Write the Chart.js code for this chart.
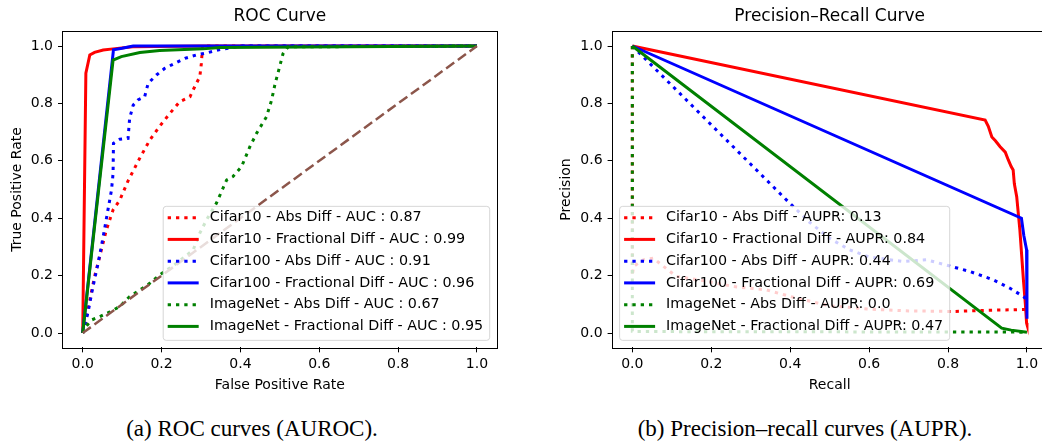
<!DOCTYPE html>
<html>
<head>
<meta charset="utf-8">
<script src="https://cdn.jsdelivr.net/npm/chart.js@4.4.0/dist/chart.umd.min.js"></script>
<style>
  html, body { margin: 0; padding: 0; background: #fff; }
  body { width: 1042px; height: 447px; position: relative; overflow: hidden; }
  canvas { position: absolute; top: 0; }
  #roc { left: 0; }
  #pr { left: 520px; }
  .caption { position: absolute; top: 417px; width: 400px; font-family: 'Liberation Serif', serif; font-size: 23px; line-height: 23px; text-align: center; color: #000; white-space: nowrap; }
</style>
</head>
<body>
<canvas id="roc" width="520" height="400"></canvas>
<canvas id="pr" width="530" height="400"></canvas>
<div class="caption" style="left:52px">(a) ROC curves (AUROC).</div>
<div class="caption" style="left:605px">(b) Precision–recall curves (AUPR).</div>
<script>
// shared tick values / labels
const tickValues = [0, 0.2, 0.4, 0.6, 0.8, 1.0];
const tickLabels = ['0.0', '0.2', '0.4', '0.6', '0.8', '1.0'];

const seriesNames = ['Cifar10 - Abs Diff', 'Cifar10 - Fractional Diff', 'Cifar100 - Abs Diff',
  'Cifar100 - Fractional Diff', 'ImageNet - Abs Diff', 'ImageNet - Fractional Diff'];
const aucValues = [0.87, 0.99, 0.91, 0.96, 0.67, 0.95];
const auprValues = [0.13, 0.84, 0.44, 0.69, 0.0, 0.47];

// ROC curves (false positive rate / true positive rate)
const rocC10AbsX = [0, 0.005, 0.018, 0.03, 0.043, 0.06, 0.077, 0.094, 0.115, 0.145, 0.17, 0.195, 0.221, 0.246, 0.272, 0.284, 0.297, 0.301, 0.304, 1.0];
const rocC10AbsY = [0, 0.022, 0.115, 0.196, 0.266, 0.359, 0.429, 0.463, 0.53, 0.61, 0.672, 0.72, 0.765, 0.806, 0.823, 0.858, 0.893, 0.94, 1.0, 1.0];
const rocC10FracX = [0, 0.008, 0.018, 0.03, 0.052, 0.077, 0.127, 0.3, 1.0];
const rocC10FracY = [0, 0.905, 0.969, 0.978, 0.986, 0.99, 0.997, 1.0, 1.0];
const rocC100AbsX = [0, 0.013, 0.026, 0.039, 0.052, 0.064, 0.073, 0.077, 0.078, 0.094, 0.115, 0.119, 0.128, 0.14, 0.157, 0.166, 0.187, 0.208, 0.234, 0.259, 0.289, 0.318, 0.343, 0.4, 1.0];
const rocC100AbsY = [0, 0.069, 0.161, 0.243, 0.336, 0.429, 0.498, 0.556, 0.661, 0.675, 0.678, 0.748, 0.794, 0.812, 0.823, 0.87, 0.899, 0.922, 0.94, 0.957, 0.969, 0.977, 0.986, 1.0, 1.0];
const rocC100FracX = [0, 0.078, 0.1, 0.128, 1.0];
const rocC100FracY = [0, 0.987, 0.992, 1.0, 1.0];
const rocImgAbsX = [0, 0.005, 0.022, 0.043, 0.069, 0.094, 0.119, 0.145, 0.17, 0.195, 0.238, 0.28, 0.297, 0.314, 0.339, 0.365, 0.381, 0.403, 0.424, 0.441, 0.466, 0.479, 0.488, 0.497, 0.508, 0.521, 1.0];
const rocImgAbsY = [0, 0.017, 0.045, 0.057, 0.074, 0.092, 0.127, 0.15, 0.173, 0.202, 0.243, 0.289, 0.348, 0.394, 0.452, 0.533, 0.545, 0.58, 0.649, 0.696, 0.753, 0.811, 0.869, 0.915, 0.973, 0.997, 1.0];
const rocImgFracX = [0, 0.077, 0.098, 0.145, 0.195, 0.305, 0.348, 1.0];
const rocImgFracY = [0, 0.951, 0.963, 0.977, 0.984, 0.99, 0.995, 1.0];
const chanceX = [0, 1];
const chanceY = [0, 1];

// Precision-recall curves (recall / precision)
const prC10AbsX = [0, 0, 0.003, 0.028, 0.053, 0.079, 0.112, 0.17, 0.256, 0.34, 0.42, 0.5, 0.6, 0.7, 0.813, 0.9, 1.0];
const prC10AbsY = [1, 0.2, 0.232, 0.255, 0.261, 0.232, 0.197, 0.185, 0.162, 0.15, 0.12, 0.095, 0.083, 0.077, 0.075, 0.079, 0.082];
const prC10FracX = [0, 0.894, 0.902, 0.911, 0.92, 0.932, 0.945, 0.953, 0.96, 0.965, 0.968, 0.974, 0.982, 0.991, 0.996, 0.999, 1.0];
const prC10FracY = [1, 0.742, 0.72, 0.683, 0.67, 0.649, 0.63, 0.602, 0.58, 0.568, 0.52, 0.475, 0.359, 0.185, 0.1, 0.035, 0.03];
const prC100AbsX = [0, 0.391, 0.45, 0.5, 0.55, 0.6, 0.687, 0.746, 0.8, 0.856, 0.915, 0.957, 0.991, 1.0];
const prC100AbsY = [1, 0.463, 0.385, 0.33, 0.29, 0.265, 0.249, 0.255, 0.235, 0.214, 0.185, 0.156, 0.127, 0.116];
const prC100FracX = [0, 0.986, 0.992, 0.999, 1.0];
const prC100FracY = [1, 0.4, 0.34, 0.29, 0.05];
const prImgAbsX = [0, 0, 0.01, 1.0];
const prImgAbsY = [1, 0.006, 0.005, 0.003];
const prImgFracX = [0, 0.936, 0.96, 1.0];
const prImgFracY = [1, 0.017, 0.01, 0.003];

const dotted = [3.3, 5];
const fontFamily = '"DejaVu Sans", sans-serif';

function pts(xs, ys) {
  return xs.map((x, i) => ({ x: x, y: ys[i] }));
}

function fmt(v) {
  return Number.isInteger(v) ? v.toFixed(1) : String(v);
}

function line(label, color, dash, xs, ys, order) {
  return {
    label: label, data: pts(xs, ys), borderColor: color, backgroundColor: color,
    borderWidth: 3, borderDash: dash, pointRadius: 0, fill: false, tension: 0, order: order
  };
}

// frame, title and matplotlib style legend
const decor = {
  id: 'decor',
  afterDraw(chart, args, opts) {
    const ctx = chart.ctx;
    const a = chart.chartArea;
    ctx.save();
    ctx.strokeStyle = '#000';
    ctx.lineWidth = 1;
    ctx.setLineDash([]);
    ctx.strokeRect(Math.round(a.left) - 0.5, Math.round(a.top) - 0.5, Math.round(a.right - a.left) + 1, Math.round(a.bottom - a.top) + 1);

    ctx.fillStyle = '#000';
    ctx.font = '17px ' + fontFamily;
    ctx.textAlign = 'center';
    ctx.textBaseline = 'middle';
    ctx.fillText(opts.title, (a.left + a.right) / 2, 17);

    const items = chart.data.datasets.filter(d => d.label);
    ctx.font = '14.3px ' + fontFamily;
    let maxW = 0;
    items.forEach(d => { maxW = Math.max(maxW, ctx.measureText(d.label).width); });
    const boxW = 4.5 + 31 + 11 + maxW + 6.5;
    const boxH = 134;
    const left = opts.corner === 'right' ? a.right - 7 - boxW : a.left + 7;
    const top = a.bottom - 7 - boxH;
    ctx.beginPath();
    ctx.roundRect(left, top, boxW, boxH, 3);
    ctx.fillStyle = 'rgba(255,255,255,0.8)';
    ctx.fill();
    ctx.strokeStyle = 'rgba(204,204,204,0.8)';
    ctx.stroke();

    items.forEach((d, i) => {
      const cy = top + 11.3 + i * 21.75;
      ctx.beginPath();
      ctx.setLineDash(d.borderDash || []);
      ctx.strokeStyle = d.borderColor;
      ctx.lineWidth = 3;
      ctx.moveTo(left + 4.5, cy);
      ctx.lineTo(left + 35.5, cy);
      ctx.stroke();
      ctx.setLineDash([]);
      ctx.fillStyle = '#000';
      ctx.textAlign = 'left';
      ctx.textBaseline = 'middle';
      ctx.fillText(d.label, left + 46.5, cy);
    });
    ctx.restore();
  }
};

function scales(xTitle, yTitle) {
  const f = { family: fontFamily, size: 14 };
  return {
    x: {
      type: 'linear', min: -0.05, max: 1.05,
      afterBuildTicks: s => { s.ticks = tickValues.map(v => ({ value: v })); },
      afterFit: s => { s.height = 52.65; },
      ticks: { callback: (v, i) => tickLabels[i], color: '#000', font: f, padding: 4, maxRotation: 0, autoSkip: false },
      grid: { drawOnChartArea: false, tickLength: 5, color: '#000' },
      border: { display: false },
      title: { display: true, text: xTitle, color: '#000', font: f, padding: { top: 0, bottom: 6.6 } }
    },
    y: {
      type: 'linear', min: -0.05, max: 1.05,
      afterBuildTicks: s => { s.ticks = tickValues.map(v => ({ value: v })); },
      afterFit: s => { s.width = 63; },
      ticks: { callback: (v, i) => tickLabels[i], color: '#000', font: f, padding: 5, autoSkip: false },
      grid: { drawOnChartArea: false, tickLength: 5, color: '#000' },
      border: { display: false },
      title: { display: true, text: yTitle, color: '#000', font: f, padding: { top: 8.6, bottom: 0 } }
    }
  };
}

new Chart(document.getElementById('roc'), {
  type: 'scatter',
  data: {
    datasets: [
      line(seriesNames[0] + ' - AUC : ' + fmt(aucValues[0]), 'red', dotted, rocC10AbsX, rocC10AbsY, 6),
      line(seriesNames[1] + ' - AUC : ' + fmt(aucValues[1]), 'red', [], rocC10FracX, rocC10FracY, 5),
      line(seriesNames[2] + ' - AUC : ' + fmt(aucValues[2]), 'blue', dotted, rocC100AbsX, rocC100AbsY, 4),
      line(seriesNames[3] + ' - AUC : ' + fmt(aucValues[3]), 'blue', [], rocC100FracX, rocC100FracY, 3),
      line(seriesNames[4] + ' - AUC : ' + fmt(aucValues[4]), 'green', dotted, rocImgAbsX, rocImgAbsY, 2),
      line(seriesNames[5] + ' - AUC : ' + fmt(aucValues[5]), 'green', [], rocImgFracX, rocImgFracY, 1),
      Object.assign(line('', '#8c564b', [10, 4.5], chanceX, chanceY, 0), { borderWidth: 2.5 })
    ].map(d => Object.assign(d, { showLine: true }))
  },
  options: {
    responsive: false, animation: false, devicePixelRatio: 1,
    layout: { padding: { left: 0, right: 23.3, top: 31.65, bottom: 0 } },
    scales: scales('False Positive Rate', 'True Positive Rate'),
    plugins: { legend: { display: false }, tooltip: { enabled: false }, decor: { title: 'ROC Curve', corner: 'right' } }
  },
  plugins: [decor]
});

new Chart(document.getElementById('pr'), {
  type: 'scatter',
  data: {
    datasets: [
      line(seriesNames[0] + ' - AUPR: ' + fmt(auprValues[0]), 'red', dotted, prC10AbsX, prC10AbsY, 6),
      line(seriesNames[1] + ' - AUPR: ' + fmt(auprValues[1]), 'red', [], prC10FracX, prC10FracY, 5),
      line(seriesNames[2] + ' - AUPR: ' + fmt(auprValues[2]), 'blue', dotted, prC100AbsX, prC100AbsY, 4),
      line(seriesNames[3] + ' - AUPR: ' + fmt(auprValues[3]), 'blue', [], prC100FracX, prC100FracY, 3),
      line(seriesNames[4] + ' - AUPR: ' + fmt(auprValues[4]), 'green', dotted, prImgAbsX, prImgAbsY, 2),
      line(seriesNames[5] + ' - AUPR: ' + fmt(auprValues[5]), 'green', [], prImgFracX, prImgFracY, 1)
    ].map(d => Object.assign(d, { showLine: true }))
  },
  options: {
    responsive: false, animation: false, devicePixelRatio: 1,
    layout: { padding: { left: 29.6, right: 3.3, top: 31.65, bottom: 0 } },
    scales: scales('Recall', 'Precision'),
    plugins: { legend: { display: false }, tooltip: { enabled: false }, decor: { title: 'Precision–Recall Curve', corner: 'left' } }
  },
  plugins: [decor]
});
</script>
</body>
</html>
